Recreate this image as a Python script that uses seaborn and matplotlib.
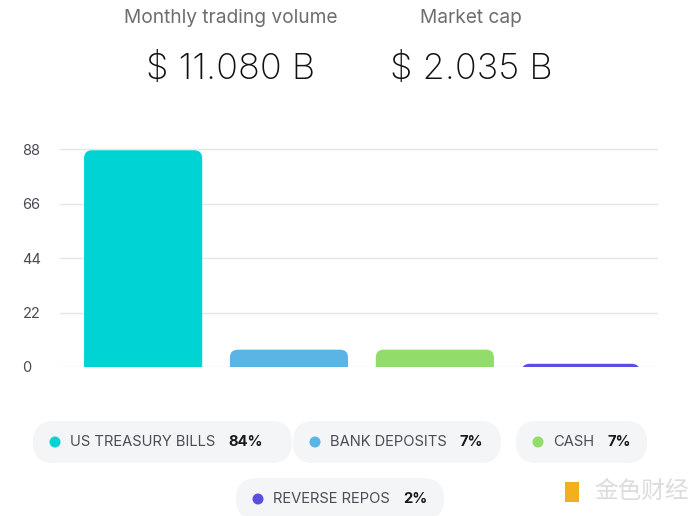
import numpy as np
import pandas as pd
import matplotlib.pyplot as plt
import seaborn as sns
from matplotlib.patches import FancyBboxPatch, Circle
from matplotlib.transforms import IdentityTransform

# data
assets = ["US TREASURY BILLS", "BANK DEPOSITS", "CASH", "REVERSE REPOS"]
values = [87.5, 7.0, 7.0, 1.3]
shares = ["84%", "7%", "7%", "2%"]
colors = ["#00d3d3", "#5ab5e6", "#90dd69", "#5a4fe0"]
yticks = [0, 22, 44, 66, 88]
stat_titles = ["Monthly trading volume", "Market cap"]
stat_values = ["$ 11.080 B", "$ 2.035 B"]

sns.set_theme(style="white")
plt.rcParams["font.family"] = ["Inter", "DejaVu Sans"]

W, H = 700, 516
fig = plt.figure(figsize=(W / 100, H / 100), dpi=100)
ax = fig.add_axes([60 / W, 1 - 367 / H, 598 / W, (367 - 145.3) / H])

df = pd.DataFrame({"asset": assets, "value": values})
sns.barplot(data=df, x="asset", y="value", hue="asset", palette=colors,
            saturation=1, width=0.81, legend=False, ax=ax)

# swap the flat bars for ones with rounded tops
rx, ry = 0.055, 3.2
for p in list(ax.patches):
    x, w, h = p.get_x(), p.get_width(), p.get_height()
    c = p.get_facecolor()
    p.remove()
    ax.add_patch(FancyBboxPatch((x, -10), w, h + 10,
                                boxstyle=f"round,pad=0,rounding_size={rx}",
                                mutation_aspect=ry / rx, fc=c, ec="none",
                                zorder=3))

ax.set_xlim(-0.57, 3.53)
ax.set_ylim(0, 89.5)
ax.set_yticks(yticks)
ax.set_yticklabels([str(t) for t in yticks])
ax.set_xticks([])
ax.set_xlabel("")
ax.set_ylabel("")
ax.grid(axis="y", color="#e6e6e6", lw=1)
ax.set_axisbelow(True)
sns.despine(ax=ax, left=True, bottom=True)
ax.tick_params(axis="y", length=0, pad=27, labelsize=10.5, labelcolor="#4a4a55")
for lab in ax.get_yticklabels():
    lab.set_horizontalalignment("left")

# header stats
for cx, t, v in zip([231, 471], stat_titles, stat_values):
    fig.text(cx / W, 1 - 18 / H, t, ha="center", va="center",
             fontsize=13.8, color="#6b6e73")
    fig.text(cx / W, 1 - 69 / H, v, ha="center", va="center",
             fontsize=26, color="#111111", fontweight="light")

# legend pills (pixel layout)
pills = [(33, 292, 442), (293, 501, 442), (516, 647, 442), (236, 444, 499)]
tr = IdentityTransform()
for (x0, x1, cy), name, share, col in zip(pills, assets, shares, colors):
    ph = 42
    fig.add_artist(FancyBboxPatch((x0, H - cy - ph / 2), x1 - x0, ph,
                                  boxstyle="round,pad=0,rounding_size=21",
                                  fc="#f3f5f6", ec="none", transform=tr))
    fig.add_artist(Circle((x0 + 22, H - cy), 5.5, fc=col, ec="none",
                          transform=tr))
    t = fig.text((x0 + 37) / W, 1 - cy / H, name, ha="left", va="center",
                 fontsize=10.6, color="#4a4d55")
    fig.canvas.draw()
    bb = t.get_window_extent()
    fig.text((bb.x1 + 13) / W, 1 - cy / H, share, ha="left", va="center",
             fontsize=10.6, color="#1a1a1a", fontweight="bold")

# watermark
fig.add_artist(FancyBboxPatch((565, H - 502), 14, 20,
                              boxstyle="square,pad=0", fc="#f2b01e",
                              ec="none", transform=tr))
fig.text(594 / W, 1 - 491 / H, "金色财经", ha="left", va="center",
         fontsize=17, color="#dcdcdc", family=["Noto Sans CJK SC"])

fig.savefig("out.png", dpi=100)
